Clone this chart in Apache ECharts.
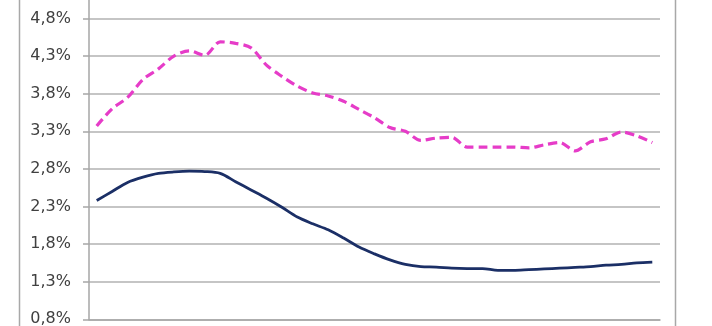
<!DOCTYPE html>
<html>
<head>
<meta charset="utf-8">
<script src="https://cdn.jsdelivr.net/npm/echarts@6/dist/echarts.min.js"></script>
<style>
  html, body { margin: 0; padding: 0; background: #fff; }
  #chart { width: 712px; height: 326px; }
</style>
</head>
<body>
<div id="chart"></div>
<script>
// 37 periods, labels fall below the visible area
const periods = ['1', '2', '3', '4', '5', '6', '7', '8', '9', '10', '11', '12', '13', '14', '15', '16', '17', '18', '19',
  '20', '21', '22', '23', '24', '25', '26', '27', '28', '29', '30', '31', '32', '33', '34', '35', '36', '37']

// dashed magenta series (%)
const upper = [3.37, 3.60, 3.75, 3.99, 4.13, 4.30, 4.37, 4.31, 4.49, 4.47, 4.41, 4.18, 4.03,
  3.90, 3.81, 3.77, 3.70, 3.59, 3.48, 3.35, 3.30, 3.18, 3.21, 3.22, 3.09,
  3.09, 3.09, 3.09, 3.08, 3.12, 3.15, 3.04, 3.16, 3.20, 3.29, 3.24, 3.15]

// solid navy series (%)
const lower = [2.38, 2.50, 2.62, 2.69, 2.74, 2.76, 2.77, 2.765, 2.74, 2.63, 2.52, 2.41, 2.29,
  2.16, 2.07, 1.99, 1.88, 1.76, 1.67, 1.59, 1.53, 1.50, 1.495, 1.48, 1.475,
  1.475, 1.45, 1.45, 1.46, 1.47, 1.48, 1.49, 1.50, 1.52, 1.53, 1.55, 1.56]

// y axis runs from 0,8% in steps of 0,5 (top step is cropped off) -> plotted relative to the base
const yBase = 0.8
const yStep = 0.5
const ySpan = 4.5

const myChart = echarts.init(document.getElementById('chart'))

const option = {
  animation: false,
  grid: {
    left: 89,
    right: 52,
    top: -19.1,
    bottom: 6.7,
    outerBoundsMode: 'none',
  },
  graphic: [
    { type: 'line', shape: { x1: 19.5, y1: 0, x2: 19.5, y2: 326 }, style: { stroke: '#a8a8a8', lineWidth: 1.5 } },
    { type: 'line', shape: { x1: 675.5, y1: 0, x2: 675.5, y2: 326 }, style: { stroke: '#a8a8a8', lineWidth: 1.5 } },
  ],
  xAxis: {
    type: 'category',
    data: periods,
    boundaryGap: true,
    axisLine: { lineStyle: { color: '#a6a6a6', width: 1.5 } },
    axisTick: { interval: 1, length: 6, lineStyle: { color: '#a6a6a6', width: 1.5 } },
    axisLabel: { show: false },
    splitLine: { show: false },
  },
  yAxis: {
    type: 'value',
    min: 0,
    max: ySpan,
    interval: yStep,
    axisLine: { show: true, lineStyle: { color: '#a6a6a6', width: 1.5 } },
    axisTick: { show: true, length: 6, lineStyle: { color: '#a6a6a6', width: 1.5 } },
    axisLabel: {
      margin: 18,
      color: '#404040',
      fontFamily: 'DejaVu Sans',
      fontSize: 16,
      formatter: (v) => (v + yBase).toFixed(1).replace('.', ',') + '%',
    },
    splitLine: { lineStyle: { color: '#b2b2b2', width: 1.5 } },
  },
  series: [
    {
      name: 'upper',
      type: 'line',
      smooth: 0.3,
      symbol: 'none',
      data: upper.map((v) => v - yBase),
      lineStyle: { color: '#e63cc8', width: 3.2, type: [9, 5] },
    },
    {
      name: 'lower',
      type: 'line',
      smooth: 0.3,
      symbol: 'none',
      data: lower.map((v) => v - yBase),
      lineStyle: { color: '#1b2f66', width: 2.8 },
    },
  ],
}

myChart.setOption(option)
</script>
</body>
</html>
